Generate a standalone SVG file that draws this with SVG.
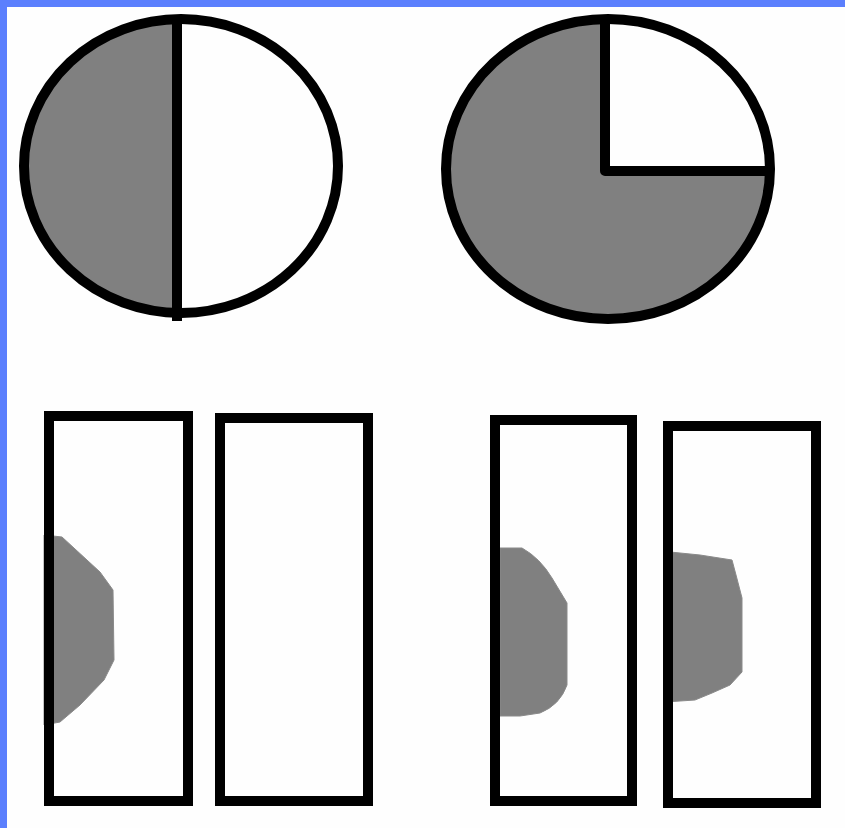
<svg xmlns="http://www.w3.org/2000/svg" width="845" height="828" viewBox="0 0 845 828">
<style>
.ol{fill:none;stroke:#000;stroke-width:10}
.gray{fill:#808080}
.blob{fill:#808080;stroke:#8a8a8a;stroke-width:1}
</style>
<defs>
<clipPath id="leftHalf"><rect x="0" y="0" width="177" height="400"/></clipPath>
<clipPath id="trQuad"><rect x="605" y="0" width="240" height="171"/></clipPath>
</defs>
<rect x="0" y="0" width="845" height="828" fill="#fefefe"/>
<rect x="0" y="0" width="845" height="7" fill="#5b7ffd"/>
<rect x="0" y="0" width="7" height="828" fill="#5b7ffd"/>

<g id="circle-half">
<ellipse cx="181" cy="166" rx="157" ry="147" fill="#fefefe"/>
<ellipse cx="181" cy="166" rx="157" ry="147" class="gray" clip-path="url(#leftHalf)"/>
<ellipse cx="181" cy="166" rx="157" ry="147" class="ol"/>
<line x1="177" y1="15" x2="177" y2="321" stroke="#000" stroke-width="10"/>
</g>

<g id="circle-three-quarter">
<ellipse cx="608" cy="169" rx="162" ry="150" class="gray"/>
<ellipse cx="608" cy="169" rx="162" ry="150" fill="#fefefe" clip-path="url(#trQuad)"/>
<ellipse cx="608" cy="169" rx="162" ry="150" class="ol"/>
<path d="M605,20 L605,171 L770,171" fill="none" stroke="#000" stroke-width="10" stroke-linejoin="round"/>
</g>

<g id="rect1">
<path class="blob" d="M44,535 L62,537 L100,572 L113,590 L114,660 L104,680 L80,705 L60,722 L44,725 Z"/>
<rect x="49" y="416" width="139" height="385" class="ol"/>
</g>

<g id="rect2">
<rect x="220" y="418" width="148" height="383" class="ol"/>
</g>

<g id="rect3">
<path class="blob" d="M500,548 L522,548 Q540,558 552,578 L567,603 L567,685 Q560,705 540,713 L520,716 L500,716 Z"/>
<rect x="495" y="420" width="137" height="381" class="ol"/>
</g>

<g id="rect4">
<path class="blob" d="M670,552 L700,555 L732,560 L736,575 L742,598 L742,672 L730,685 L712,693 L695,700 L665,702 Z"/>
<rect x="668" y="426" width="148" height="377" class="ol"/>
</g>
</svg>
